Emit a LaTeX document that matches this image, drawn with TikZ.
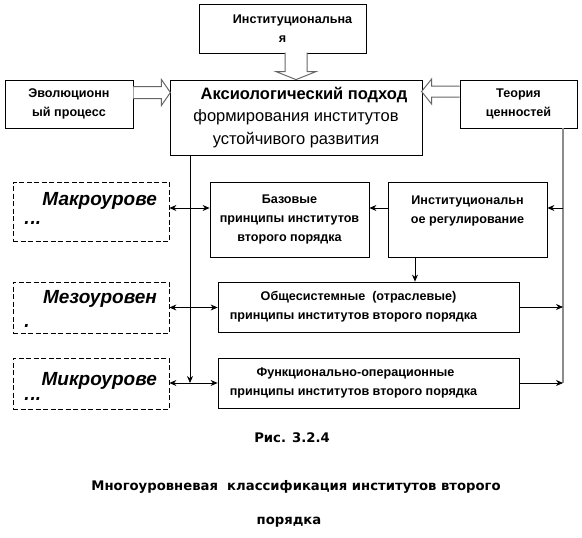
\documentclass[tikz,border=0pt]{standalone}
\usepackage{fontspec}
\setmainfont{Liberation Sans}
\newfontfamily\capfont{DejaVu Sans}
\usetikzlibrary{arrows.meta,positioning}

\begin{document}
\begin{tikzpicture}[
      x=1pt, y=-1pt,
      box/.style      = {draw, line width=0.8pt, align=center, inner sep=2pt,
                         font=\fontsize{12.6}{19}\selectfont\bfseries},
      lvl/.style      = {draw, line width=0.8pt, dash pattern=on 5pt off 2.5pt,
                         minimum width=156pt, minimum height=51pt},
      lvltxt/.style   = {inner sep=0pt, font=\fontsize{19}{24}\selectfont\bfseries\itshape},
      captxt/.style   = {font=\capfont\fontsize{13.2}{15}\selectfont\bfseries},
      arr/.style      = {-{Stealth[length=7pt,width=6pt]}, line width=0.8pt},
      dbl/.style      = {{Stealth[length=7pt,width=6pt]}-{Stealth[length=7pt,width=6pt]}, line width=0.8pt},
      hollow/.style   = {draw=black!60, fill=white, line width=1pt},
      grayline/.style = {draw=black!45, line width=1.8pt},
    ]
    \useasboundingbox (0,0) rectangle (582,538);

    \node[box, minimum width=167pt, minimum height=49pt] (inst) at (282.5,28.5) {\hspace*{20pt}Институциональна\\я};
    \node[box, minimum width=252pt, minimum height=75pt, font=\fontsize{16.5}{22.5}\selectfont]
          (main) at (296,117.5) {\hspace*{16pt}{\bfseries Аксиологический подход}\\формирования институтов\\устойчивого развития};
    \node[box, minimum width=128pt, minimum height=48pt] (evo) at (69,104) {Эволюционн\\ый процесс};
    \node[box, minimum width=117pt, minimum height=48pt] (theory) at (518.5,104) {Теория\\ценностей};

    \node[lvl, minimum height=59pt] (macro) at (91,211.5) {};
    \node[box, minimum width=159pt, minimum height=75pt] (base) at (289.5,219.5) {Базовые\\принципы институтов\\второго порядка};
    \node[box, minimum width=159pt, minimum height=75pt] (reg) at (467.5,219.5) {Институциональн\\ое регулирование\\\mbox{}};
    \node[lvl] (meso) at (91,307.5) {};
    \node[box, minimum width=301pt, minimum height=50pt] (sys) at (368.5,307) {Общесистемные\ \ (отраслевые)\hspace*{20pt}\\принципы институтов второго порядка\hspace*{30pt}};
    \node[lvl] (micro) at (91,383.5) {};
    \node[box, minimum width=301pt, minimum height=50pt] (func) at (368.5,383) {Функционально-операционные\hspace*{26pt}\\принципы институтов второго порядка\hspace*{30pt}};

    \node[lvltxt, anchor=base east] (macrot) at (157,205) {Макроурове};
    \node[lvltxt, anchor=base east] (mesot) at (157,303) {Мезоуровен};
    \node[lvltxt, anchor=base east] (microt) at (157,385) {Микроурове};
    \begin{scope}
      \clip (13,182) rectangle (169,223);
      \node[lvltxt, anchor=base west] (macrof) at (23,231) {нь};
    \end{scope}
    \begin{scope}
      \clip (13,282) rectangle (169,326);
      \node[lvltxt, anchor=base west] (mesof) at (23,334) {ь};
    \end{scope}
    \begin{scope}
      \clip (13,358) rectangle (169,399);
      \node[lvltxt, anchor=base west] (microf) at (23,407) {нь};
    \end{scope}

    \draw[hollow] (evo.east) ++(0,-17.5) -- ++(28,0) -- ++(0,-7) -- ++(9,13) -- ++(-9,13) -- ++(0,-7) -- ++(-28,0);
    \draw[hollow] (theory.west) ++(0,-18) -- ++(-28,0) -- ++(0,-7) -- ++(-10,12.5) -- ++(10,12.5) -- ++(0,-7) -- ++(28,0);
    \draw[hollow] (main.north) ++(11,-27) -- ++(0,19) -- ++(9,0) -- (main.north) -- ++(-20,-8) -- ++(9,0) -- ++(0,-19);

    \coordinate (sp) at (190,0);
    \coordinate (gx) at (563,0);
    \coordinate (r1) at (0,208);
    \coordinate (dn) at (415,0);

    \draw[grayline] (gx |- theory.south) -- (gx |- func.east);
    \draw[arr] (sp |- main.south) -- (sp |- func.west);
    \draw[dbl] (macro.east |- r1) -- (base.west |- r1);
    \draw[arr] (reg.west |- r1) -- (base.east |- r1);
    \draw[arr] (gx |- r1) -- (reg.east |- r1);
    \draw[arr] (dn |- reg.south) -- (dn |- sys.north);
    \draw[dbl] (meso.east) -- (meso.east -| sys.west);
    \draw[arr] (sys.east) -- (sys.east -| gx);
    \draw[dbl] (micro.east |- func.west) -- (func.west);
    \draw[arr] (func.east) -- (func.east -| gx);

    \node[captxt] (fig) at (292,438) {Рис. 3.2.4};
    \node[captxt] (title) at (296,487) {Многоуровневая\ \ классификация институтов второго};
    \node[captxt] (title2) at (289,522) {порядка};
  \end{tikzpicture}
\end{document}
